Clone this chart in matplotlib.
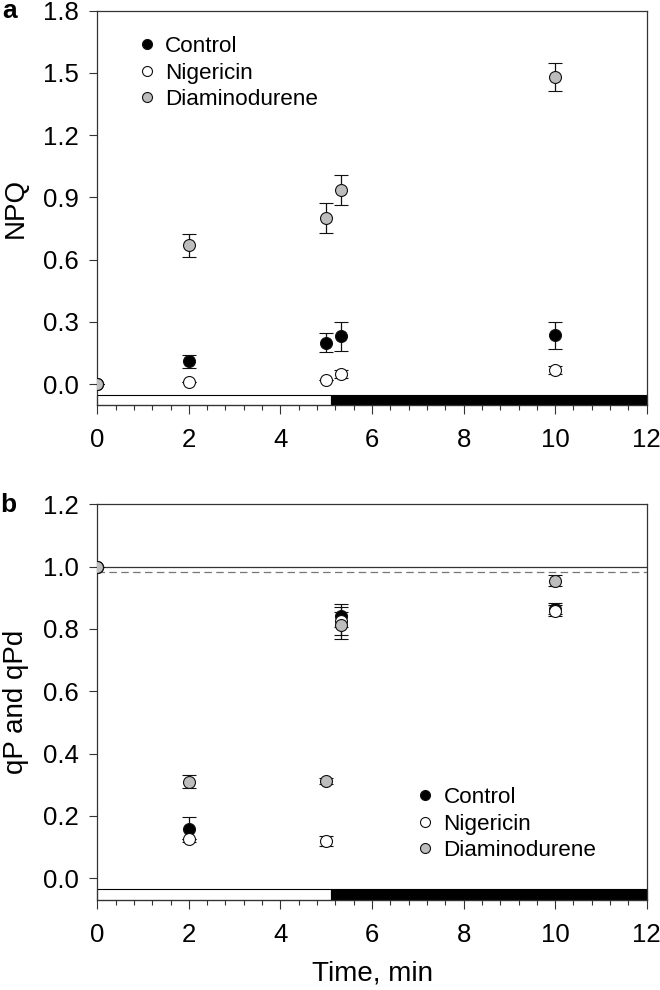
import numpy as np
import matplotlib
matplotlib.use("Agg")
import matplotlib.pyplot as plt
from matplotlib.lines import Line2D
from matplotlib.patches import Rectangle
from matplotlib.ticker import MultipleLocator

plt.rcParams['font.family'] = ['Liberation Sans', 'DejaVu Sans']

# ---------------- data ----------------
series = ["Control", "Nigericin", "Diaminodurene"]
colors = ["#000000", "#ffffff", "#bdbdbd"]

time_a = [0, 2, 5, 5.33, 10]
npq_control = [0.0, 0.11, 0.20, 0.23, 0.235]
npq_control_err = [0.0, 0.03, 0.045, 0.07, 0.063]
npq_nigericin = [0.0, 0.01, 0.02, 0.05, 0.07]
npq_nigericin_err = [0.0, 0.0, 0.0, 0.02, 0.02]
npq_dad = [0.0, 0.67, 0.80, 0.935, 1.48]
npq_dad_err = [0.0, 0.055, 0.072, 0.074, 0.067]

time_b = [0, 2, 5, 5.33, 10]
qp_control = [1.0, 0.157, np.nan, 0.842, 0.865]
qp_control_err = [0.0, 0.04, 0.0, 0.037, 0.018]
qp_nigericin = [1.0, 0.126, 0.119, 0.826, 0.858]
qp_nigericin_err = [0.0, 0.0, 0.015, 0.045, 0.018]
qp_dad = [1.0, 0.31, 0.313, 0.812, 0.955]
qp_dad_err = [0.0, 0.02, 0.01, 0.043, 0.018]

qp_ref_solid = 1.0
qp_ref_dashed = 0.984

# light / dark bar segments (start, end, colour)
bar_segments = [(0.0, 5.1, "#ffffff"), (5.1, 6.1, "#000000"), (6.1, 12.0, "#000000")]

xticks = [0, 2, 4, 6, 8, 10, 12]
yticks_a = [0.0, 0.3, 0.6, 0.9, 1.2, 1.5, 1.8]
yticks_b = [0.0, 0.2, 0.4, 0.6, 0.8, 1.0, 1.2]

# ---------------- figure ----------------
W, H = 660, 990
fig = plt.figure(figsize=(W / 100, H / 100), dpi=100)
left = 97.3 / W
width = (646.7 - 97.3) / W
ax1 = fig.add_axes([left, 1 - 405 / H, width, (405 - 10.5) / H])
ax2 = fig.add_axes([left, 1 - 900 / H, width, (900 - 504.3) / H])

TICK_FS = 18.5
LABEL_FS = 20
LEG_FS = 16.2
MS = 8.6


def style_axes(ax, ylim, yticks, bar_top):
    ax.set_xlim(0, 12)
    ax.set_ylim(*ylim)
    ax.set_xticks(xticks)
    ax.set_xticklabels([str(t) for t in xticks])
    ax.xaxis.set_minor_locator(MultipleLocator(0.4))
    ax.set_yticks(yticks)
    ax.set_yticklabels([f"{v:.1f}" for v in yticks])
    ax.tick_params(axis='x', which='major', direction='out', length=6.5, width=0.8,
                   labelsize=TICK_FS, pad=10, color='#333333')
    ax.tick_params(axis='x', which='minor', direction='out', length=3.3, width=0.8,
                   color='#333333')
    ax.tick_params(axis='y', which='major', direction='out', length=5.5, width=0.8,
                   labelsize=TICK_FS, pad=8, color='#333333')
    for s in ax.spines.values():
        s.set_linewidth(0.9)
        s.set_color('#333333')
    for x0, x1, c in bar_segments:
        ax.add_patch(Rectangle((x0, ylim[0]), x1 - x0, bar_top - ylim[0],
                               facecolor=c, edgecolor='#000000', linewidth=0.8,
                               zorder=2, clip_on=False))


def draw_series(ax, t, ys, errs):
    for y, e, c, name in zip(ys, errs, colors, series):
        ax.errorbar(t, y, yerr=e, fmt='o', ms=MS, mfc=c, mec='#111111', mew=0.8,
                    ecolor='#111111', elinewidth=0.9, capsize=5, capthick=0.9,
                    zorder=3, label=name)


def add_legend(ax, loc_xy):
    handles = [Line2D([], [], linestyle='none', marker='o', ms=7.2, mfc=c,
                      mec='#111111', mew=0.8) for c in colors]
    ax.legend(handles, series, loc='upper left', bbox_to_anchor=loc_xy,
              frameon=False, fontsize=LEG_FS, handlelength=0.6,
              handletextpad=0.5, labelspacing=0.24, borderaxespad=0,
              borderpad=0)


# panel a
style_axes(ax1, (-0.1, 1.8), yticks_a, -0.052)
draw_series(ax1, time_a, [npq_control, npq_nigericin, npq_dad],
            [npq_control_err, npq_nigericin_err, npq_dad_err])
ax1.set_ylabel("NPQ", fontsize=LABEL_FS, labelpad=10)
add_legend(ax1, (0.078, 0.935))
fig.text(2 / W, 1 - 18.5 / H, "a", fontsize=19, fontweight='bold', ha='left',
         va='baseline')

# panel b
style_axes(ax2, (-0.07, 1.2), yticks_b, -0.035)
ax2.axhline(qp_ref_solid, color='#333333', linewidth=0.9, zorder=1)
ax2.axhline(qp_ref_dashed, color='#777777', linewidth=0.9, linestyle=(0, (6, 3.5)),
            zorder=1)
draw_series(ax2, time_b, [qp_control, qp_nigericin, qp_dad],
            [qp_control_err, qp_nigericin_err, qp_dad_err])
ax2.set_ylabel("qP and qPd", fontsize=LABEL_FS, labelpad=10)
ax2.set_xlabel("Time, min", fontsize=LABEL_FS, labelpad=10)
add_legend(ax2, (0.585, 0.285))
fig.text(0 / W, 1 - 512 / H, "b", fontsize=19, fontweight='bold', ha='left',
         va='baseline')

fig.savefig("out.png", dpi=100)
